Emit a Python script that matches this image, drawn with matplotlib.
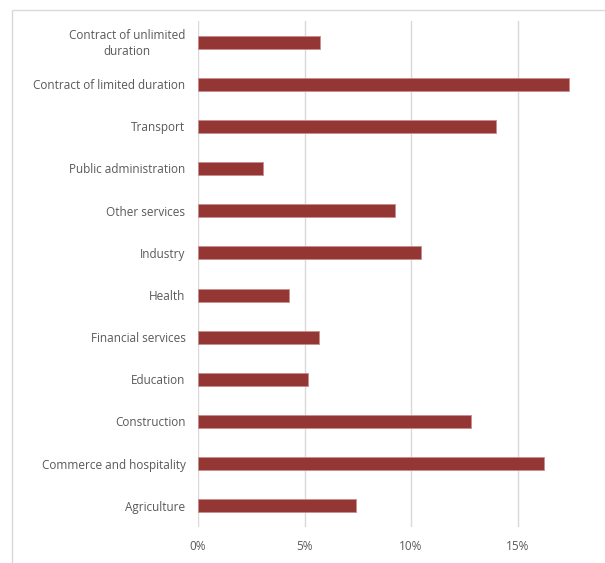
"""Horizontal bar chart: share by sector and contract type."""

import matplotlib
matplotlib.use('Agg')
import matplotlib.pyplot as plt
import matplotlib.transforms as mtransforms
from matplotlib.ticker import FuncFormatter

categories = [
    'Agriculture',
    'Commerce and hospitality',
    'Construction',
    'Education',
    'Financial services',
    'Health',
    'Industry',
    'Other services',
    'Public administration',
    'Transport',
    'Contract of limited duration',
    'Contract of unlimited\nduration',
]
values = [0.0742, 0.1624, 0.128, 0.0516, 0.0568, 0.0427,
          0.1047, 0.0925, 0.0305, 0.140, 0.174, 0.0573]
xticks = [0.0, 0.05, 0.10, 0.15]

BAR_COLOR = '#943634'
TEXT_COLOR = '#595959'
GRID_COLOR = '#d9d9d9'
FS = 8.5

plt.rcParams['font.family'] = ['Open Sans', 'DejaVu Sans']

fig = plt.figure(figsize=(6.05, 5.63), dpi=100)
ax = fig.add_axes([198 / 605, 1 - 527 / 563, 1 - 198 / 605, (527 - 21) / 563])

# outer chart border (cropped on right/bottom in the original)
border = plt.Rectangle((12 / 605, -0.1), 1.2, 1 - 10 / 563 + 0.1,
                       transform=fig.transFigure, fill=False,
                       edgecolor=GRID_COLOR, linewidth=1.0, clip_on=False)
fig.patches.append(border)

pos = list(range(len(categories)))
ax.barh(pos, values, height=0.31, color=BAR_COLOR, edgecolor='#c98d8c',
        linewidth=0.6, zorder=3)

ax.set_ylim(-0.5, len(categories) - 0.5)
ax.set_xlim(0, 407 / 21.3 / 100)
ax.set_yticks(pos)
# category labels drawn as plain text so the wrapped one stays centred
ax.set_yticklabels([''] * len(categories))
label_tf = mtransforms.offset_copy(ax.get_yaxis_transform(), fig=fig,
                                   x=-9, y=-1, units='points')
for p, name in zip(pos, categories):
    ax.text(0, p, name, transform=label_tf, ha='right', va='center',
            multialignment='center', fontsize=FS, color=TEXT_COLOR,
            linespacing=1.3, clip_on=False)

ax.set_xticks(xticks)
ax.xaxis.set_major_formatter(FuncFormatter(lambda v, _: f'{v * 100:.0f}%'))

ax.tick_params(axis='both', length=0, colors=TEXT_COLOR, labelsize=FS)
ax.tick_params(axis='x', pad=9)
for spine in ax.spines.values():
    spine.set_visible(False)
ax.grid(axis='x', color=GRID_COLOR, linewidth=1.0, zorder=0)
ax.set_axisbelow(True)

fig.savefig('out.png', dpi=100)
